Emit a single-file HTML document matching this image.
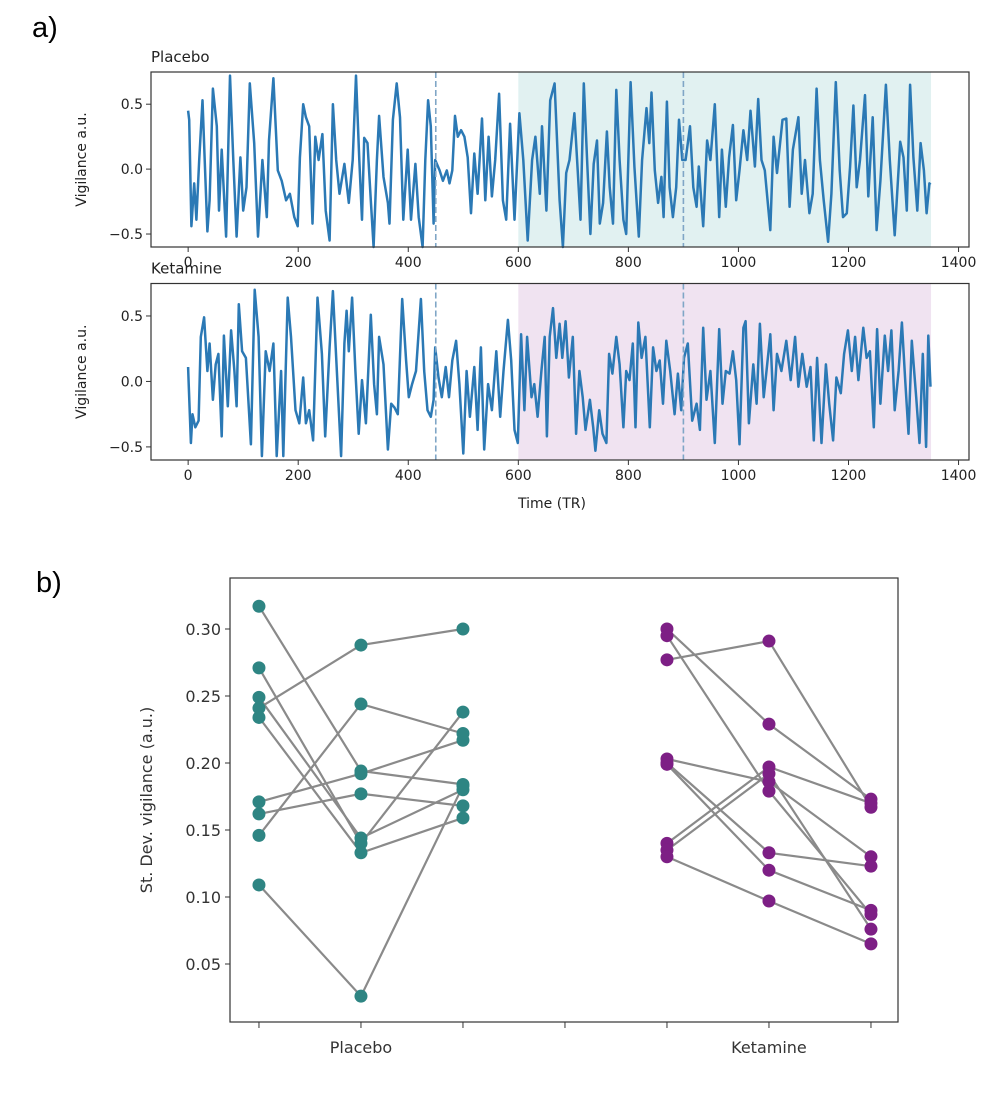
<!DOCTYPE html>
<html><head><meta charset="utf-8">
<style>
html,body{margin:0;padding:0;background:#fff;}
svg{display:block;font-family:"DejaVu Sans","Liberation Sans",sans-serif;}
</style></head>
<body>
<svg id="fig" width="992" height="1096" viewBox="0 0 992 1096" xmlns="http://www.w3.org/2000/svg">
<rect width="992" height="1096" fill="#fff"/>
<text x="32" y="37" font-size="29" font-family="Liberation Sans, sans-serif" fill="#000">a)</text>
<text x="36" y="592" font-size="29" font-family="Liberation Sans, sans-serif" fill="#000">b)</text>
<g id="gA"></g>
<g id="gB"></g>
</svg>
<script>
// ---------- Panel a data (TR, value) ----------
const placeboTR = [0,2,6,11,15,20,26,30,35,39,45,52,56,61,69,76,82,88,95,100,106,112,120,127,135,143,147,155,163,170,178,185,193,199,203,209,214,220,226,231,237,244,250,257,263,269,275,284,292,299,305,311,316,320,326,332,337,343,347,355,363,366,372,379,385,391,399,405,413,419,426,431,436,441,446,449,457,463,470,475,480,485,490,496,502,508,514,520,526,534,540,546,552,558,565,572,578,585,593,602,609,617,625,631,639,643,651,658,666,675,681,687,693,702,708,713,719,725,731,737,743,748,754,761,766,772,778,784,791,796,804,811,819,825,833,838,842,848,854,860,864,870,875,881,887,892,898,904,912,918,924,928,936,943,949,957,965,970,977,983,990,996,1002,1009,1016,1022,1030,1036,1042,1048,1058,1064,1070,1080,1087,1093,1099,1109,1115,1121,1129,1135,1142,1148,1155,1163,1169,1177,1184,1190,1197,1203,1209,1215,1221,1230,1236,1244,1251,1258,1268,1275,1284,1294,1300,1306,1312,1318,1325,1331,1337,1342,1347,1349];
const placeboV = [0.45,0.38,-0.44,-0.11,-0.39,0.07,0.53,0.07,-0.48,-0.24,0.62,0.33,-0.32,0.15,-0.52,0.72,0.07,-0.52,0.09,-0.32,-0.14,0.66,0.20,-0.52,0.07,-0.37,0.22,0.70,-0.01,-0.09,-0.24,-0.19,-0.37,-0.44,0.09,0.50,0.40,0.33,-0.42,0.25,0.07,0.27,-0.32,-0.55,0.50,0.07,-0.19,0.04,-0.26,0.07,0.72,0.07,-0.39,0.24,0.20,-0.24,-0.60,0.07,0.41,-0.06,-0.26,-0.42,0.38,0.66,0.40,-0.39,0.15,-0.39,0.04,-0.37,-0.60,0.07,0.53,0.33,-0.42,0.07,-0.01,-0.09,-0.01,-0.11,-0.01,0.41,0.25,0.30,0.25,0.09,-0.34,0.12,-0.19,0.39,-0.24,0.25,-0.21,0.07,0.58,-0.24,-0.39,0.35,-0.39,0.43,0.07,-0.55,0.07,0.25,-0.19,0.33,-0.32,0.53,0.66,-0.24,-0.60,-0.03,0.07,0.43,-0.01,-0.39,0.66,0.07,-0.50,0.04,0.22,-0.42,-0.26,0.29,-0.14,-0.42,0.61,0.07,-0.39,-0.50,0.67,0.02,-0.52,0.07,0.47,0.20,0.59,-0.01,-0.26,-0.06,-0.37,0.52,-0.14,-0.37,-0.14,0.38,0.07,0.07,0.33,-0.14,-0.29,0.02,-0.44,0.22,0.07,0.50,-0.37,0.15,-0.29,0.09,0.34,-0.24,-0.01,0.30,0.07,0.45,0.02,0.54,0.07,-0.01,-0.47,0.25,-0.03,0.38,0.39,-0.29,0.15,0.40,-0.19,0.07,-0.34,-0.19,0.62,0.07,-0.24,-0.56,-0.19,0.67,-0.01,-0.37,-0.34,0.02,0.49,-0.14,0.07,0.57,-0.21,0.40,-0.47,-0.09,0.65,0.07,-0.51,0.21,0.09,-0.32,0.65,0.09,-0.32,0.20,-0.01,-0.34,-0.11,-0.12];
const ketamineTR = [0,1,5,8,13,19,23,29,35,39,45,50,55,61,65,72,78,84,88,92,98,105,114,121,128,134,141,148,155,161,169,173,181,187,195,202,209,214,220,227,235,243,249,257,263,269,278,284,288,292,298,304,310,316,323,332,338,343,347,355,363,369,375,381,389,396,401,407,414,423,429,435,441,446,449,455,461,468,474,480,487,493,500,506,512,520,526,532,538,545,552,560,567,573,581,587,593,599,605,611,616,624,629,635,642,648,652,657,663,669,675,680,686,692,699,705,711,717,722,730,736,740,747,753,760,765,771,778,784,791,796,802,808,813,818,824,831,839,845,851,857,863,869,876,884,890,896,901,908,916,924,930,936,942,949,957,965,971,977,984,990,996,1002,1009,1013,1019,1027,1033,1039,1046,1051,1058,1064,1070,1078,1087,1095,1103,1109,1116,1124,1131,1137,1143,1151,1159,1165,1172,1178,1186,1192,1199,1206,1212,1218,1227,1233,1239,1246,1252,1258,1266,1272,1278,1284,1291,1297,1303,1309,1315,1323,1329,1335,1341,1345,1349];
const ketamineV = [0.11,-0.02,-0.47,-0.25,-0.35,-0.30,0.34,0.49,0.08,0.29,-0.14,0.13,0.21,-0.42,0.35,-0.19,0.39,0.08,-0.19,0.59,0.23,0.18,-0.48,0.70,0.34,-0.57,0.23,0.08,0.29,-0.57,0.08,-0.57,0.64,0.34,-0.22,-0.32,0.03,-0.32,-0.22,-0.45,0.64,0.21,-0.42,0.26,0.69,0.18,-0.57,0.29,0.54,0.23,0.64,0.08,-0.40,0.01,-0.32,0.51,-0.02,-0.25,0.34,0.13,-0.52,-0.17,-0.20,-0.25,0.63,0.16,-0.12,-0.02,0.08,0.63,0.08,-0.22,-0.27,-0.14,0.26,0.03,-0.12,0.11,-0.12,0.16,0.31,-0.02,-0.55,0.08,-0.27,0.11,-0.37,0.26,-0.52,-0.02,-0.22,0.23,-0.27,0.08,0.47,0.16,-0.37,-0.47,0.36,-0.22,0.34,-0.12,-0.02,-0.27,0.08,0.34,-0.42,0.34,0.56,0.18,0.44,0.18,0.46,0.03,0.34,-0.40,0.08,-0.12,-0.37,-0.14,-0.35,-0.53,-0.22,-0.40,-0.47,0.21,0.06,0.34,0.13,-0.35,0.08,0.01,0.29,-0.35,0.45,0.18,0.34,-0.35,0.26,0.08,0.16,-0.17,0.31,0.08,-0.25,0.06,-0.22,0.18,0.29,-0.30,-0.17,-0.37,0.41,-0.14,0.08,-0.47,0.40,-0.17,0.08,0.06,0.23,0.01,-0.48,0.41,0.46,-0.32,0.13,-0.17,0.44,-0.12,0.08,0.36,-0.22,0.21,0.08,0.31,0.01,0.34,-0.04,0.21,-0.04,0.11,-0.45,0.18,-0.47,0.13,-0.17,-0.45,0.03,-0.09,0.21,0.39,0.08,0.34,0.01,0.41,0.18,0.23,-0.35,0.40,-0.17,0.35,0.08,0.39,-0.22,0.08,0.45,0.01,-0.40,0.31,-0.12,-0.47,0.21,-0.50,0.35,-0.04];
const xTicks = [0,200,400,600,800,1000,1200,1400];
const yTicksA = [0.5,0.0,-0.5];
const yTickLabelsA = ["0.5","0.0","\u22120.5"];
const dashedTR = [450,900];
const shadeRange = [600,1350];

// ---------- Panel b data ----------
const groups = ["Placebo","Ketamine"];
const placeboS1 = [0.317,0.271,0.249,0.241,0.234,0.171,0.162,0.146,0.109];
const placeboS2 = [0.194,0.140,0.144,0.288,0.133,0.192,0.177,0.244,0.026];
const placeboS3 = [0.184,0.238,0.180,0.300,0.159,0.217,0.168,0.222,0.183];
const ketamineS1 = [0.300,0.295,0.277,0.203,0.200,0.199,0.140,0.135,0.130];
const ketamineS2 = [0.229,0.179,0.291,0.186,0.133,0.120,0.197,0.192,0.097];
const ketamineS3 = [0.173,0.087,0.167,0.130,0.123,0.090,0.170,0.076,0.065];
const yTicksB = [0.05,0.10,0.15,0.20,0.25,0.30];
const xTickPosB = [0,1,2,3,4,5,6];
const xTickLabelsB = ["","Placebo","","","","Ketamine",""];

const NS="http://www.w3.org/2000/svg";
function mk(tag, attrs, parent){const e=document.createElementNS(NS,tag);for(const k in attrs)e.setAttribute(k,attrs[k]);parent.appendChild(e);return e;}

// ----- Panel a -----
const gA=document.getElementById('gA');
const L=151, R=969;
const xA = tr => L + (tr + 67.5) * (R - L) / (1419 + 67.5);
function drawTS(top, bottom, title, trs, vals, shadeColor, nm){
  const ymin=-0.6, ymax=0.748;
  const yA = v => bottom - (v - ymin) * (bottom - top) / (ymax - ymin);
  const g=mk('g',{},gA);
  
  
  const sh=mk('rect',{x:xA(shadeRange[0]),y:top,width:xA(shadeRange[1])-xA(shadeRange[0]),height:bottom-top,fill:shadeColor},g);
  
  
  let d='';
  for(let i=0;i<trs.length;i++){const v=Math.max(ymin,Math.min(ymax,vals[i]));d+=(i?'L':'M')+xA(trs[i]).toFixed(1)+' '+yA(v).toFixed(1);}
  const ln=mk('path',{d:d,fill:'none',stroke:'#2b79b5','stroke-width':2.5,'stroke-linejoin':'round'},g);
  
  
  dashedTR.forEach(t=>{
    const dl=mk('line',{x1:xA(t),x2:xA(t),y1:top,y2:bottom,stroke:'#7fa6c6','stroke-width':1.6,'stroke-dasharray':'6,3'},g);
    
    
  });
  const fr=mk('rect',{x:L,y:top,width:R-L,height:bottom-top,fill:'none',stroke:'#333','stroke-width':1.2},g);
  
  
  yTicksA.forEach((v,i)=>{
    mk('line',{x1:L-5,x2:L,y1:yA(v),y2:yA(v),stroke:'#333','stroke-width':1},g);
    const t=mk('text',{x:L-8,y:yA(v)+5,'text-anchor':'end','font-size':14,fill:'#222'},g);
    t.textContent=yTickLabelsA[i];
    
    
  });
  xTicks.forEach(v=>{
    mk('line',{x1:xA(v),x2:xA(v),y1:bottom,y2:bottom+5,stroke:'#333','stroke-width':1},g);
    const t=mk('text',{x:xA(v),y:bottom+20,'text-anchor':'middle','font-size':14,fill:'#222'},g);
    t.textContent=String(v);
    
    
  });
  const yl=mk('text',{x:0,y:0,'text-anchor':'middle','font-size':14,fill:'#222',transform:`translate(86,${(top+bottom)/2}) rotate(-90)`},g);
  yl.textContent='Vigilance a.u.';
  
  
  const tt=mk('text',{x:L,y:top-10,'font-size':15,fill:'#222'},g);
  tt.textContent=title;
  
  
}
drawTS(72,247,'Placebo',placeboTR,placeboV,'#e1f1f1','placebo');
drawTS(283.5,460,'Ketamine',ketamineTR,ketamineV,'#f0e3f1','ketamine');
const xt=mk('text',{x:552,y:508,'text-anchor':'middle','font-size':14,fill:'#222'},gA);
xt.textContent='Time (TR)';



// ----- Panel b -----
const gB=document.getElementById('gB');
const BL=230,BR=898,BT=578,BB=1022;
const xB = i => BL + (i + 0.284) * (BR - BL) / (6.265 + 0.284);
const yB = v => 629 + (0.30 - v) * 1340;
const fb=mk('rect',{x:BL,y:BT,width:BR-BL,height:BB-BT,fill:'none',stroke:'#333','stroke-width':1.2},gB);


yTicksB.forEach(v=>{
  mk('line',{x1:BL-5,x2:BL,y1:yB(v),y2:yB(v),stroke:'#333','stroke-width':1},gB);
  const t=mk('text',{x:BL-9,y:yB(v)+6,'text-anchor':'end','font-size':16,fill:'#333'},gB);
  t.textContent=v.toFixed(2);
  
  
});
xTickPosB.forEach((p,i)=>{
  mk('line',{x1:xB(p),x2:xB(p),y1:BB,y2:BB+6,stroke:'#333','stroke-width':1},gB);
  if(xTickLabelsB[i]){
    const t=mk('text',{x:xB(p),y:BB+31,'text-anchor':'middle','font-size':16,fill:'#333'},gB);
    t.textContent=xTickLabelsB[i];
    
    
  }
});
const ylb=mk('text',{x:0,y:0,'text-anchor':'middle','font-size':16,fill:'#333',transform:`translate(152,800) rotate(-90)`},gB);
ylb.textContent='St. Dev. vigilance (a.u.)';



function drawGroup(s1,s2,s3,off,color,nm){
  const sess=[s1,s2,s3];
  for(let k=0;k<s1.length;k++){
    let d='';
    for(let j=0;j<3;j++){d+=(j?'L':'M')+xB(off+j).toFixed(1)+' '+yB(sess[j][k]).toFixed(1);}
    const p=mk('path',{d:d,fill:'none',stroke:'#8a8a8a','stroke-width':2.2},gB);
    
    
  }
  for(let j=0;j<3;j++){
    sess[j].forEach(v=>{
      const c=mk('circle',{cx:xB(off+j),cy:yB(v),r:6.5,fill:color},gB);
      
      
    });
  }
}
drawGroup(placeboS1,placeboS2,placeboS3,0,'#2e8583','placebo');
drawGroup(ketamineS1,ketamineS2,ketamineS3,4,'#7d1f85','ketamine');
</script>
</body></html>
